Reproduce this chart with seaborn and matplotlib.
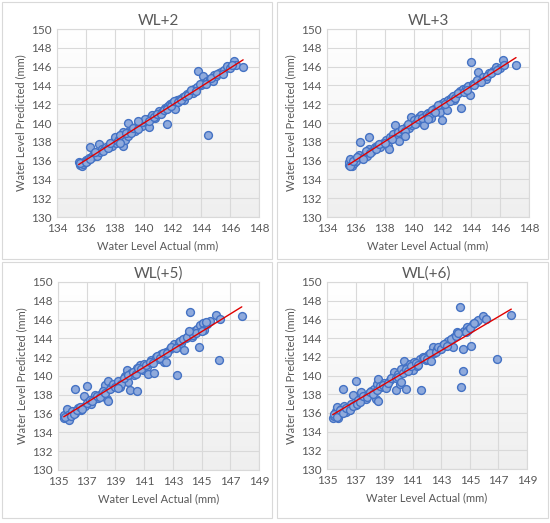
import numpy as np
import matplotlib
matplotlib.use("Agg")
import matplotlib.pyplot as plt
from matplotlib.patches import Rectangle
import seaborn as sns

# WL+2  (actual, predicted)
act_2 = [135.5, 135.6, 135.7, 135.8, 135.9, 136.0, 136.1, 136.2, 136.3, 136.4, 136.5, 136.6, 136.7, 136.8,
         136.9, 137.0, 137.1, 137.3, 137.4, 137.6, 137.8, 137.9, 138.0, 138.1, 138.3, 138.5, 138.6, 138.6,
         138.7, 138.9, 138.9, 139.0, 139.2, 139.4, 139.5, 139.7, 139.8, 139.9, 140.0, 140.2, 140.3, 140.4,
         140.5, 140.6, 140.8, 141.0, 141.1, 141.3, 141.5, 141.6, 141.7, 141.8, 142.0, 142.2, 142.3, 142.5,
         142.7, 142.8, 143.0, 143.2, 143.4, 143.5, 143.7, 143.8, 144.0, 144.1, 144.2, 144.4, 144.5, 144.6,
         144.8, 144.9, 145.0, 145.2, 145.4, 145.6, 145.8, 146.0, 146.3, 146.4, 146.9,
         135.6, 136.0, 136.3, 136.6, 137.2, 137.5, 137.7, 138.2, 138.4, 138.8, 139.1, 139.3, 139.6, 139.9,
         140.1, 140.4, 140.7, 140.9, 141.2, 141.4, 141.6, 141.9, 142.1, 142.4, 142.6, 142.9, 143.1, 143.3,
         143.6, 143.9, 144.3, 144.7, 145.1, 145.5, 146.1, 138.4, 139.6]
pred_2 = [135.8, 135.5, 135.4, 135.6, 135.9, 136.1, 136.0, 136.3, 137.5, 136.4, 136.6, 136.5, 136.8, 136.5,
          137.8, 136.9, 137.2, 137.3, 137.5, 137.4, 137.6, 138.0, 138.5, 137.9, 138.3, 138.4, 137.6, 139.0,
          138.2, 140.0, 138.6, 139.1, 139.3, 139.2, 139.6, 139.8, 140.0, 139.7, 140.2, 140.1, 140.4, 139.6,
          140.6, 140.8, 140.5, 141.1, 141.3, 141.2, 141.6, 139.9, 141.8, 142.0, 142.1, 141.5, 142.4, 142.6,
          142.8, 142.5, 143.1, 143.3, 143.2, 143.6, 143.8, 145.5, 144.0, 145.0, 144.3, 144.5, 138.7, 144.7,
          144.5, 145.1, 145.0, 145.3, 145.4, 145.6, 146.1, 145.9, 146.6, 146.2, 146.0,
          135.7, 135.8, 136.2, 136.9, 137.0, 137.3, 137.9, 138.1, 138.7, 138.9, 138.9, 139.5, 139.4, 140.1,
          140.4, 140.2, 140.6, 141.0, 141.0, 141.4, 141.5, 141.8, 142.3, 142.2, 142.4, 142.9, 143.0, 143.5,
          143.4, 144.1, 144.1, 144.8, 145.2, 145.2, 146.2, 137.9, 140.2]

# WL+3
act_3 = [135.5, 135.5, 135.6, 135.7, 135.9, 136.0, 136.2, 136.3, 136.4, 136.6, 136.8, 136.9, 136.9, 137.1,
         137.3, 137.5, 137.7, 137.9, 138.1, 138.2, 138.3, 138.4, 138.6, 138.7, 138.8, 139.0, 139.1, 139.3,
         139.5, 139.7, 139.8, 139.9, 140.0, 140.2, 140.4, 140.5, 140.7, 140.8, 141.0, 141.2, 141.4, 141.6,
         141.8, 141.9, 142.0, 142.1, 142.3, 142.4, 142.6, 142.8, 143.0, 143.2, 143.3, 143.4, 143.6, 143.8,
         143.9, 144.0, 144.1, 144.3, 144.5, 144.6, 144.8, 145.0, 145.2, 145.5, 145.7, 146.0, 146.2, 146.3,
         147.1,
         135.6, 135.8, 136.1, 136.5, 136.7, 137.0, 137.4, 137.6, 138.0, 138.5, 138.9, 139.2, 139.4, 139.6,
         140.1, 140.3, 140.6, 140.9, 141.1, 141.3, 141.5, 141.7, 142.2, 142.5, 142.7, 142.9, 143.1, 143.5,
         143.7, 144.2, 144.4, 144.7, 145.1, 145.4, 145.8, 139.4, 141.0]
pred_3 = [135.5, 135.8, 136.2, 135.4, 135.7, 136.0, 136.6, 138.0, 136.3, 136.6, 136.5, 138.5, 137.2, 137.0,
          137.4, 137.6, 137.5, 137.9, 138.2, 137.6, 137.2, 138.5, 138.8, 139.8, 138.4, 138.1, 139.2, 139.0,
          139.6, 139.5, 140.6, 139.8, 140.3, 140.0, 140.6, 140.9, 139.8, 140.7, 141.1, 140.5, 141.5, 141.7,
          141.2, 142.0, 140.3, 142.2, 141.4, 142.5, 142.7, 142.5, 143.1, 143.4, 141.6, 143.6, 143.7, 143.9,
          143.0, 146.5, 144.2, 144.4, 145.4, 144.5, 144.9, 144.7, 145.3, 145.5, 146.0, 145.9, 146.7, 146.2,
          146.2,
          135.4, 136.0, 136.4, 136.2, 137.0, 136.8, 137.2, 137.8, 137.9, 138.3, 139.0, 139.4, 139.2, 139.9,
          139.9, 140.4, 140.5, 141.0, 140.9, 141.4, 141.2, 141.9, 142.0, 142.3, 142.9, 142.7, 143.2, 143.3,
          143.5, 144.0, 144.6, 144.4, 145.0, 145.3, 145.6, 138.6, 140.4]

# WL(+5)
act_5 = [135.4, 135.4, 135.6, 135.7, 135.8, 136.0, 136.2, 136.2, 136.4, 136.6, 136.8, 136.9, 137.0, 137.1,
         137.3, 137.5, 137.6, 137.8, 138.0, 138.2, 138.3, 138.4, 138.5, 138.5, 138.7, 138.9, 139.1, 139.3,
         139.5, 139.7, 139.8, 139.9, 140.0, 140.1, 140.3, 140.5, 140.5, 140.7, 140.9, 141.0, 141.2, 141.3,
         141.5, 141.7, 141.8, 142.0, 142.2, 142.4, 142.5, 142.8, 143.0, 143.1, 143.3, 143.4, 143.6, 143.8,
         143.9, 144.1, 144.2, 144.3, 144.5, 144.7, 144.8, 144.9, 145.1, 145.2, 145.4, 145.6, 146.0, 146.2,
         146.3, 147.8,
         135.5, 135.9, 136.1, 136.3, 136.5, 136.7, 137.0, 137.2, 137.4, 137.7, 137.9, 138.1, 138.3, 138.6,
         138.8, 139.0, 139.2, 139.4, 139.6, 139.9, 140.2, 140.4, 140.6, 140.8, 141.1, 141.4, 141.6, 141.9,
         142.1, 142.3, 142.6, 142.9, 143.2, 143.5, 143.7, 144.0, 144.4, 144.6, 145.0, 145.3, 139.2, 142.5,
         144.1]
pred_5 = [135.5, 135.8, 136.5, 135.9, 135.3, 136.3, 138.6, 136.1, 136.6, 136.4, 137.9, 136.8, 138.9, 137.2,
          137.0, 137.6, 138.0, 137.7, 138.1, 138.5, 139.0, 137.6, 137.3, 139.5, 138.8, 139.0, 139.3, 138.8,
          139.6, 140.0, 140.6, 139.4, 138.5, 140.3, 140.1, 138.4, 140.8, 141.2, 140.6, 141.3, 141.0, 140.2,
          141.7, 140.3, 142.0, 141.8, 142.3, 141.5, 142.6, 142.9, 143.1, 143.4, 140.1, 143.6, 143.5, 142.8,
          144.0, 144.5, 146.8, 144.2, 144.8, 145.0, 143.1, 145.4, 145.6, 144.9, 145.5, 145.9, 146.5, 141.7,
          146.1, 146.4,
          135.6, 135.7, 136.0, 136.4, 136.7, 136.5, 137.1, 137.4, 137.3, 137.9, 137.8, 138.4, 138.2, 138.6,
          139.1, 138.8, 139.5, 139.2, 139.8, 140.1, 140.4, 140.2, 140.9, 140.7, 141.2, 141.5, 141.4, 142.1,
          141.9, 142.5, 142.4, 143.1, 143.0, 143.7, 143.9, 144.2, 144.4, 144.6, 144.8, 145.7, 138.7, 141.5,
          144.8]

# WL(+6)
act_6 = [135.4, 135.5, 135.6, 135.7, 135.8, 135.9, 136.0, 136.1, 136.2, 136.3, 136.5, 136.7, 136.8, 137.0,
         137.0, 137.2, 137.4, 137.5, 137.7, 137.9, 138.1, 138.3, 138.4, 138.5, 138.6, 138.6, 138.8, 139.0,
         139.2, 139.4, 139.6, 139.7, 139.8, 140.0, 140.1, 140.2, 140.4, 140.5, 140.6, 140.8, 141.0, 141.1,
         141.3, 141.5, 141.6, 141.7, 141.9, 142.1, 142.4, 142.5, 142.7, 142.9, 143.1, 143.3, 143.5, 143.8,
         143.9, 144.1, 144.3, 144.4, 144.5, 144.5, 144.6, 144.8, 144.9, 145.1, 145.2, 145.4, 145.6, 145.9,
         146.1, 146.9, 147.9,
         135.5, 135.7, 135.9, 136.1, 136.3, 136.6, 136.8, 137.1, 137.3, 137.5, 137.8, 138.0, 138.2, 138.5,
         138.7, 138.9, 139.1, 139.3, 139.5, 139.8, 140.0, 140.3, 140.5, 140.7, 140.9, 141.2, 141.4, 141.8,
         142.0, 142.2, 142.6, 142.8, 143.0, 143.2, 143.4, 143.7, 144.0, 144.2, 144.7, 145.0, 145.3, 142.3,
         140.2]
pred_6 = [135.5, 135.7, 136.2, 136.6, 135.5, 136.0, 136.4, 138.6, 136.7, 136.1, 136.5, 136.9, 137.9, 139.4,
          136.8, 137.4, 138.2, 137.6, 137.5, 138.0, 138.3, 138.6, 137.5, 139.1, 137.3, 139.6, 138.8, 139.2,
          139.0, 139.5, 139.8, 140.4, 138.5, 140.2, 139.1, 140.7, 141.5, 138.6, 140.9, 141.2, 140.6, 141.4,
          141.0, 141.8, 138.5, 142.0, 141.7, 142.2, 143.0, 142.4, 142.8, 143.0, 143.3, 143.5, 143.7, 143.1,
          144.1, 144.6, 147.3, 138.8, 140.5, 142.8, 144.8, 145.2, 144.9, 143.2, 145.5, 145.7, 145.9, 146.4,
          146.0, 141.8, 146.5,
          135.9, 135.6, 136.3, 136.0, 136.5, 136.3, 136.7, 137.0, 137.2, 137.8, 137.7, 138.2, 138.0, 138.4,
          138.9, 139.0, 138.7, 139.2, 139.7, 139.7, 139.8, 140.3, 140.7, 140.5, 141.0, 141.3, 141.1, 141.9,
          141.8, 142.4, 142.5, 143.0, 142.8, 143.4, 143.2, 143.9, 144.2, 144.5, 144.7, 145.1, 145.6, 141.5,
          139.3]

titles = ["WL+2", "WL+3", "WL(+5)", "WL(+6)"]
actuals = [act_2, act_3, act_5, act_6]
preds = [pred_2, pred_3, pred_5, pred_6]
x_ticks = [np.arange(134, 149, 2), np.arange(134, 149, 2), np.arange(135, 150, 2), np.arange(135, 150, 2)]
y_ticks = np.arange(130, 151, 2)

sns.set_theme(style="white")
plt.rcParams['font.family'] = ['Lato', 'DejaVu Sans']
text_col = "#595959"
grid_col = "#d9d9d9"

fig = plt.figure(figsize=(5.5, 5.23), dpi=100)
W, H = 550, 523

# axes rectangles in pixels: left, right, top, bottom
ax_px = [(57, 259, 29, 217), (327, 529, 29, 217), (58, 259, 282, 470), (327, 527, 282, 469)]
box_px = [(2, 272, 2, 259), (277, 548, 2, 259), (2, 272, 262, 518), (277, 548, 262, 518)]

grad = np.linspace(0, 1, 100).reshape(-1, 1)
grad_cmap = matplotlib.colors.LinearSegmentedColormap.from_list("g", ["#efefef", "#ffffff"])

for i in range(4):
    l, r, t, b = ax_px[i]
    ax = fig.add_axes([l / W, 1 - b / H, (r - l) / W, (b - t) / H])

    bl, br, bt, bb = box_px[i]
    fig.patches.append(Rectangle((bl / W, 1 - bb / H), (br - bl) / W, (bb - bt) / H,
                                 transform=fig.transFigure, fill=False, edgecolor=grid_col, lw=0.8))

    # soft vertical gradient like the Excel plot area
    ax.imshow(grad, extent=[0, 1, 0, 1], transform=ax.transAxes, aspect='auto',
              cmap=grad_cmap, origin='lower', zorder=0)

    sns.regplot(x=actuals[i], y=preds[i], ax=ax, ci=None, truncate=True,
                scatter_kws=dict(s=32, facecolor="#8faadc", edgecolor="#4472c4", linewidths=1.0,
                                 alpha=1, zorder=3),
                line_kws=dict(color="#e00000", lw=1.0, zorder=4))

    xt = x_ticks[i]
    ax.set_xlim(xt[0], xt[-1])
    ax.set_ylim(130, 150)
    ax.set_xticks(xt)
    ax.set_yticks(y_ticks)
    ax.grid(True, color=grid_col, lw=0.8)
    ax.set_axisbelow(True)
    for s in ax.spines.values():
        s.set_color(grid_col)
        s.set_linewidth(0.8)
    ax.tick_params(axis='both', labelsize=8.5, colors=text_col, length=0, pad=4)
    ax.set_xlabel("Water Level Actual (mm)", fontsize=8, color=text_col, labelpad=5)
    ax.set_ylabel("Water Level Predicted (mm)", fontsize=8, color=text_col, labelpad=3)
    ax.set_title(titles[i], fontsize=11, color=text_col, pad=3)

fig.savefig("out.png", dpi=100)
